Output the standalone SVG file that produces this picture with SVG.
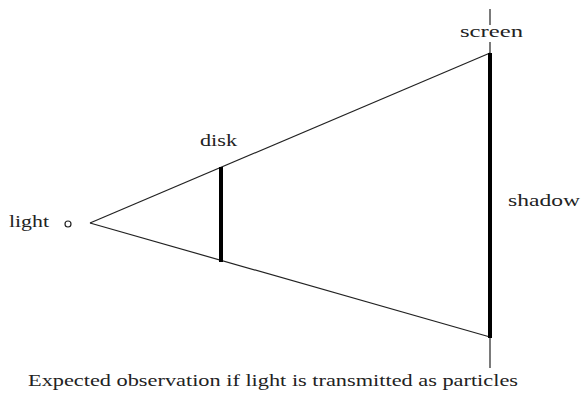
<svg xmlns="http://www.w3.org/2000/svg" width="582" height="395" viewBox="0 0 582 395">
<style>
text{font-family:"Liberation Serif","DejaVu Serif",serif;font-size:17px;fill:#222}
.thin{stroke:#222;stroke-width:1.2;fill:none}
.thick{stroke:#000;stroke-width:4;fill:none}
</style>
<rect width="582" height="395" fill="#fff"/>
<g id="connectors">
<line class="thin" x1="90" y1="223" x2="490" y2="53"/>
<line class="thin" x1="90" y1="223" x2="490" y2="337"/>
</g>
<g id="light">
<circle cx="68" cy="224" r="3" class="thin"/>
<text x="9" y="227" textLength="40" lengthAdjust="spacingAndGlyphs">light</text>
</g>
<g id="disk">
<line class="thick" x1="221" y1="167" x2="221" y2="262"/>
<text x="200" y="146" textLength="37" lengthAdjust="spacingAndGlyphs">disk</text>
</g>
<g id="screen">
<line class="thin" x1="490" y1="9" x2="490" y2="25"/>
<line class="thin" x1="490" y1="42" x2="490" y2="368"/>
<line class="thick" x1="490" y1="53" x2="490" y2="338"/>
<text x="460" y="37" textLength="63" lengthAdjust="spacingAndGlyphs">screen</text>
</g>
<g id="shadow">
<text x="508" y="206" textLength="72" lengthAdjust="spacingAndGlyphs">shadow</text>
</g>
<g id="caption">
<text x="28" y="386" textLength="490" lengthAdjust="spacingAndGlyphs">Expected observation if light is transmitted as particles</text>
</g>
</svg>
